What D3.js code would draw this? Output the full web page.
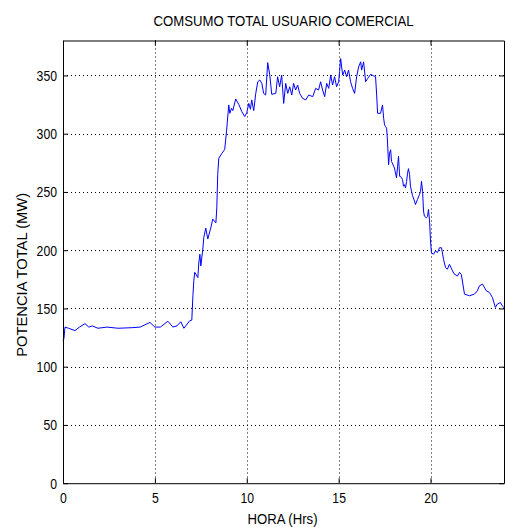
<!DOCTYPE html>
<html>
<head>
<meta charset="utf-8">
<script src="https://cdn.jsdelivr.net/npm/d3@7"></script>
<style>
  html, body { margin: 0; padding: 0; background: #fff; }
  svg text { font-family: "Liberation Sans", Arial, sans-serif; fill: #000; }
</style>
</head>
<body>
<svg id="chart" width="505" height="527"></svg>
<script>
// Commercial-user total load profile over one day
const chartTitle = "COMSUMO TOTAL USUARIO COMERCIAL";
const xLabel = "HORA (Hrs)";
const yLabel = "POTENCIA TOTAL (MW)";

const xTicks = [0, 5, 10, 15, 20];
const yTicks = [0, 50, 100, 150, 200, 250, 300, 350];

// time of day (hours)
const hours = [
  0.00, 0.05, 0.11, 0.30, 0.65, 0.90, 1.20, 1.40, 1.60, 1.90, 2.40, 3.00, 3.75, 4.20,
  4.73, 5.00, 5.30, 5.71, 5.98, 6.20, 6.41, 6.58, 6.90, 7.01, 7.07, 7.12, 7.17, 7.34,
  7.39, 7.45, 7.50, 7.61, 7.66, 7.77, 7.88, 8.04, 8.15, 8.32, 8.37, 8.42, 8.48, 8.64,
  8.80, 8.90, 9.02, 9.08, 9.17, 9.24, 9.40, 9.57, 9.73, 9.89, 10.00, 10.11, 10.20, 10.27,
  10.38, 10.49, 10.60, 10.71, 10.82, 10.92, 11.03, 11.14, 11.25, 11.36, 11.58, 11.68, 11.79, 11.90,
  12.01, 12.12, 12.23, 12.34, 12.45, 12.55, 12.66, 12.77, 12.88, 13.04, 13.21, 13.37, 13.59, 13.75,
  13.91, 14.02, 14.13, 14.24, 14.35, 14.46, 14.57, 14.67, 14.78, 14.89, 15.00, 15.05, 15.11, 15.22,
  15.33, 15.43, 15.54, 15.65, 15.76, 15.87, 15.98, 16.09, 16.20, 16.25, 16.36, 16.47, 16.58, 16.74,
  16.90, 17.01, 17.07, 17.12, 17.28, 17.39, 17.45, 17.50, 17.55, 17.61, 17.65, 17.72, 17.77, 17.83,
  17.88, 18.04, 18.15, 18.21, 18.26, 18.32, 18.37, 18.48, 18.53, 18.59, 18.64, 18.70, 18.75, 18.80,
  18.86, 18.91, 18.97, 19.02, 19.13, 19.18, 19.29, 19.40, 19.46, 19.51, 19.57, 19.62, 19.67, 19.78,
  19.84, 19.89, 19.95, 20.00, 20.05, 20.16, 20.27, 20.38, 20.49, 20.60, 20.71, 20.82, 20.92, 21.03,
  21.20, 21.30, 21.47, 21.58, 21.68, 21.85, 22.12, 22.39, 22.55, 22.66, 22.83, 23.04, 23.21, 23.37,
  23.53, 23.64, 23.80, 23.91, 24.00
];

// total power (MW)
const power = [
  122, 124, 134, 133, 131, 134, 137, 134, 135, 133, 134, 133, 133.5, 134,
  138, 134, 134, 139, 134, 135, 138.6, 133, 139.5, 140, 161, 174, 181, 176.5,
  189, 196.5, 186.5, 201, 210.7, 219, 209.6, 219, 226.7, 223.5, 236.3, 265, 279, 283,
  286.5, 302, 324.7, 317.5, 321.8, 319.8, 329.8, 325, 319, 314.7, 318, 326, 321, 329,
  319.8, 334.6, 344.6, 346.1, 343.2, 334.6, 333.2, 361, 350.6, 333.8, 334.6, 348.9, 340.3, 350.3,
  326, 343.2, 334.6, 340.3, 333.2, 343.2, 337.5, 341.8, 334.6, 330.3, 329, 333.2, 331.8, 338.9,
  337.5, 344.6, 337.5, 331.8, 343.2, 338.9, 350.3, 341.8, 348.9, 340.3, 344.6, 353.2, 364.5, 350.3,
  354.6, 348.9, 354.6, 344.6, 338.9, 334.6, 348.9, 357.4, 361.7, 354.6, 361.7, 344.6, 347.4, 350.9,
  349.7, 348.9, 333.2, 317.5, 317.5, 324.7, 313.2, 307.6, 306.2, 304.7, 296.2, 273.4, 283.3, 286.2,
  276.2, 270.5, 262, 272, 280.5, 263.4, 263.4, 260.6, 254.9, 256.3, 253.4, 259.1, 266, 270,
  265, 254.9, 250.6, 247, 242.1, 239.2, 243.5, 247.8, 250.6, 259.1, 250.6, 233.5, 229.2, 227.8,
  229, 235, 225, 207.9, 197.9, 196.5, 199.3, 198, 202.1, 202.1, 192.2, 185, 183.7, 187.9,
  182.2, 179.4, 177.9, 181, 179, 162.3, 160.9, 162.3, 165.1, 169.4, 170.9, 165.1, 163.7, 159.4,
  150.9, 153.8, 155.1, 152.3, 150.6
];

const svg = d3.select("#chart");
const margin = { left: 63, right: 1, top: 40.5, bottom: 43.8 };
const W = 505, H = 527;
const x0 = margin.left, x1 = W - margin.right;
const y0 = H - margin.bottom, y1 = margin.top;

const x = d3.scaleLinear().domain([0, 24]).range([x0, x1]);
const y = d3.scaleLinear().domain([0, 380]).range([y0, y1]);

// dotted grid
const grid = svg.append("g").attr("stroke", "#000").attr("stroke-width", 1)
  .attr("stroke-dasharray", "1,3");
xTicks.filter(d => d > 0).forEach(d => {
  grid.append("line").attr("x1", Math.round(x(d)) + 0.5).attr("x2", Math.round(x(d)) + 0.5)
    .attr("y1", y1).attr("y2", y0);
});
yTicks.filter(d => d > 0).forEach(d => {
  grid.append("line").attr("y1", Math.round(y(d)) + 0.5).attr("y2", Math.round(y(d)) + 0.5)
    .attr("x1", x0).attr("x2", x1);
});

// data line
const line = d3.line().x((d, i) => x(hours[i])).y(d => y(d));
svg.append("path").datum(power)
  .attr("fill", "none").attr("stroke", "#0000ff").attr("stroke-width", 1)
  .attr("stroke-linejoin", "round")
  .attr("d", line);

// axes with inward ticks on all four sides
const tickLen = 5;
const xb = d3.axisBottom(x).tickValues(xTicks).tickSizeInner(-tickLen).tickSizeOuter(0).tickPadding(9);
const xt = d3.axisTop(x).tickValues(xTicks).tickSizeInner(-tickLen).tickSizeOuter(0).tickFormat("");
const yl = d3.axisLeft(y).tickValues(yTicks).tickSizeInner(-tickLen).tickSizeOuter(0).tickPadding(6);
const yr = d3.axisRight(y).tickValues(yTicks).tickSizeInner(-tickLen).tickSizeOuter(0).tickFormat("");

// narrow tick labels: each digit squeezed to a fixed advance
const digitW = 6.8;
function style(g) {
  g.selectAll("path").attr("stroke", "#000");
  g.selectAll("line").attr("stroke", "#000");
  g.selectAll("text").attr("font-size", 15).attr("font-family", "Liberation Sans, Arial, sans-serif")
    .attr("lengthAdjust", "spacingAndGlyphs")
    .attr("textLength", function () { return this.textContent.length * digitW; });
}
svg.append("g").attr("transform", `translate(0,${y0})`).call(xb).call(style);
svg.append("g").attr("transform", `translate(0,${y1})`).call(xt).call(style);
svg.append("g").attr("transform", `translate(${x0},0)`).call(yl).call(style);
svg.append("g").attr("transform", `translate(${x1},0)`).call(yr).call(style);

// title and axis labels
svg.append("text").attr("x", (x0 + x1) / 2).attr("y", 25.5)
  .attr("text-anchor", "middle").attr("font-size", 15)
  .attr("textLength", 260).attr("lengthAdjust", "spacingAndGlyphs").text(chartTitle);
svg.append("text").attr("x", (x0 + x1) / 2 - 1).attr("y", 523.5)
  .attr("text-anchor", "middle").attr("font-size", 15)
  .attr("textLength", 70).attr("lengthAdjust", "spacingAndGlyphs").text(xLabel);
svg.append("text").attr("transform", `translate(27,${(y0 + y1) / 2 + 13}) rotate(-90)`)
  .attr("text-anchor", "middle").attr("font-size", 15)
  .attr("textLength", 164).attr("lengthAdjust", "spacingAndGlyphs").text(yLabel);
</script>
</body>
</html>
